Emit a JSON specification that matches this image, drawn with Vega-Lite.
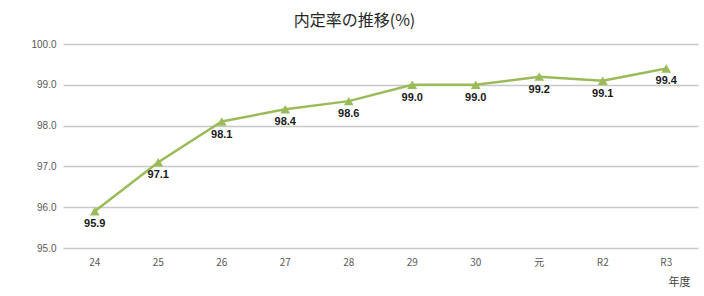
{
  "$schema": "https://vega.github.io/schema/vega-lite/v6.json",
  "autosize": {"type": "none"},
  "width": 635,
  "height": 204,
  "padding": {"left": 63, "top": 44, "right": 6, "bottom": 48},
  "background": "white",
  "title": {
    "text": "内定率の推移(%)",
    "fontSize": 16,
    "font": "Noto Sans CJK JP",
    "fontWeight": "normal",
    "color": "#262626",
    "anchor": "middle",
    "dx": -26,
    "offset": 10
  },
  "data": {
    "values": [
      {"year": "24", "rate": 95.9},
      {"year": "25", "rate": 97.1},
      {"year": "26", "rate": 98.1},
      {"year": "27", "rate": 98.4},
      {"year": "28", "rate": 98.6},
      {"year": "29", "rate": 99.0},
      {"year": "30", "rate": 99.0},
      {"year": "元", "rate": 99.2},
      {"year": "R2", "rate": 99.1},
      {"year": "R3", "rate": 99.4}
    ]
  },
  "encoding": {
    "x": {
      "field": "year",
      "type": "ordinal",
      "sort": null,
      "scale": {"type": "band", "paddingInner": 0, "paddingOuter": 0},
      "axis": {
        "title": "年度",
        "titleFont": "Noto Sans CJK JP",
        "titleFontSize": 11,
        "titleFontWeight": "normal",
        "titleColor": "#404040",
        "titleX": 627,
        "titleY": 34,
        "titleAlign": "right",
        "titleBaseline": "middle",
        "labelAngle": 0,
        "labelFont": "Noto Sans CJK JP",
        "labelFontSize": 10,
        "labelColor": "#595959",
        "labelPadding": 9,
        "ticks": false,
        "domain": false,
        "grid": false
      }
    },
    "y": {
      "field": "rate",
      "type": "quantitative",
      "scale": {"domain": [95, 100], "nice": false, "zero": false},
      "axis": {
        "title": null,
        "values": [95, 96, 97, 98, 99, 100],
        "format": ".1f",
        "labelFont": "Liberation Sans",
        "labelFontSize": 10,
        "labelColor": "#595959",
        "labelPadding": 7,
        "ticks": false,
        "domain": false,
        "grid": true,
        "gridColor": "#C8C8C8",
        "gridWidth": 1.5
      }
    }
  },
  "layer": [
    {
      "mark": {"type": "line", "color": "#9BBB59", "strokeWidth": 2.5}
    },
    {
      "mark": {"type": "point", "shape": "triangle-up", "filled": true, "color": "#9BBB59", "size": 95, "opacity": 1}
    },
    {
      "mark": {"type": "text", "dy": 13, "baseline": "middle", "align": "center", "font": "Liberation Sans", "fontSize": 11, "fontWeight": "bold", "color": "#1a1a1a"},
      "encoding": {"text": {"field": "rate", "type": "quantitative", "format": ".1f"}}
    }
  ],
  "config": {"view": {"stroke": null}}
}
